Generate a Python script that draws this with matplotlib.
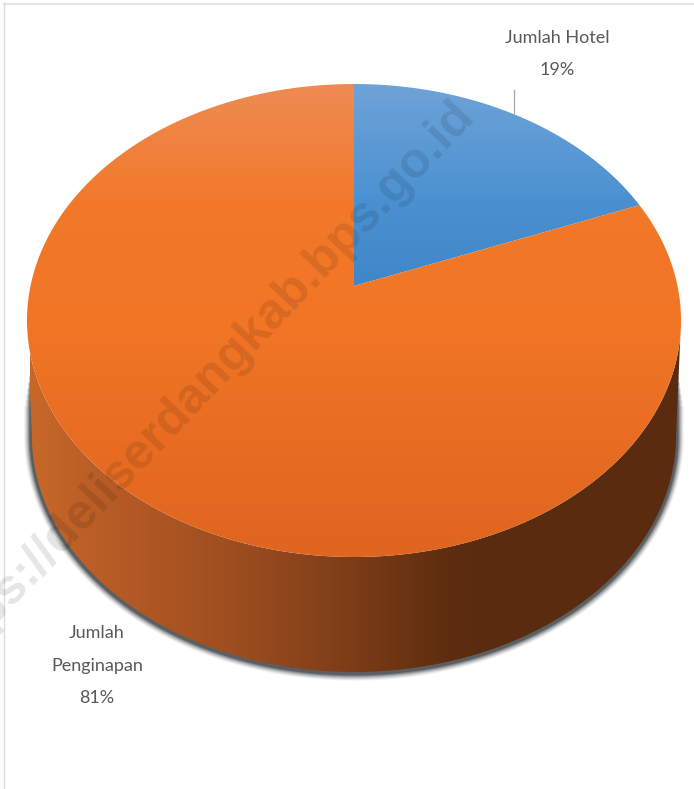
import numpy as np
import matplotlib
matplotlib.use("Agg")
import matplotlib.pyplot as plt
from matplotlib.colors import LinearSegmentedColormap
from matplotlib.patches import Polygon

# data
categories = ["Jumlah Hotel", "Jumlah Penginapan"]
values = [19, 81]
slice_labels = ["Jumlah Hotel\n19%", "Jumlah\nPenginapan\n81%"]
watermark = "https://deliserdangkab.bps.go.id"

# pie geometry in pixels (tilted disc seen in perspective)
CX, APEX_Y, TOP_Y, BOTTOM_Y, HALF_W = 354, 286, 84, 557, 323.5
DEPTH = 115
BASE_SHRINK = 0.985

c = (2 * APEX_Y - TOP_Y - BOTTOM_Y) / (TOP_Y - BOTTOM_Y)
a = TOP_Y * (1 + c) - APEX_Y


def project(theta):
    # theta clockwise from 12 o'clock, radians
    u, v = np.sin(theta), np.cos(theta)
    w = 1 + c * v
    return CX + HALF_W * u / w, (APEX_Y + a * v) / w


def gradient(ax, stops, horizontal, span, clip):
    # stops are (pixel position, colour) along the gradient, span is the other axis
    lo, hi = stops[0][0], stops[-1][0]
    cmap = LinearSegmentedColormap.from_list(
        "g", [((p - lo) / (hi - lo), col) for p, col in stops])
    ramp = np.linspace(0, 1, 512)
    if horizontal:
        img, extent = ramp[None, :], (lo, hi, span[1], span[0])
    else:
        img, extent = ramp[:, None], (span[0], span[1], hi, lo)
    im = ax.imshow(img, cmap=cmap, extent=extent, origin="upper", aspect="auto",
                   zorder=clip.get_zorder(), vmin=0, vmax=1)
    im.set_clip_path(clip)


fig = plt.figure(figsize=(6.94, 7.89), dpi=100)
ax = fig.add_axes([0, 0, 1, 1])

# page frame
ax.plot([4, 694], [3.5, 3.5], color="#e2e2e2", lw=1.2, zorder=1)
ax.plot([4.5, 4.5], [3, 789], color="#dcdcdc", lw=1.0, zorder=1)

# side wall + its soft shadow
widest = np.arccos(-c)
t = np.linspace(widest, 2 * np.pi - widest, 400)
rx, ry = project(t)
bx = CX + (rx - CX) * BASE_SHRINK
by = ry + DEPTH
shadow_lw = [11, 9.5, 8, 6.5, 5, 3.5]
shadow_alpha = [0.07, 0.1, 0.14, 0.2, 0.3, 0.45]
shadow_rise = [30, 36, 42, 48, 54, 60]
for lw, alpha, rise in zip(shadow_lw, shadow_alpha, shadow_rise):
    sx = np.r_[bx[0], bx, bx[-1]]
    sy = np.r_[by[0] - rise, by, by[-1] - rise] + 1
    ax.plot(sx, sy, color="#303438", lw=lw, alpha=alpha, zorder=2, solid_capstyle="butt")

wall = Polygon(np.column_stack([np.r_[rx, bx[::-1]], np.r_[ry, by[::-1]]]),
               closed=True, fc="none", ec="none", zorder=3)
ax.add_patch(wall)
wall_stops = [(30, "#c7682a"), (120, "#b55a25"), (230, "#9e4e20"), (354, "#7b3c17"),
              (450, "#5e2d0f"), (500, "#5a2b0f"), (685, "#5a2b0f")]
gradient(ax, wall_stops, True, (300, 680), wall)

# top face, one slice per value
blue_stops = [(84, "#6ea3d8"), (200, "#4b91d1"), (290, "#3f86c8")]
orange_stops = [(84, "#ee8b53"), (200, "#f2792a"), (330, "#f17525"), (557, "#df6520")]
slice_stops = [blue_stops, orange_stops]

share = np.array(values, dtype=float) / sum(values)
edges = np.r_[0, np.cumsum(share)] * 2 * np.pi
for i, stops in enumerate(slice_stops):
    th = np.linspace(edges[i], edges[i + 1], 600)
    px, py = project(th)
    pts = np.column_stack([np.r_[CX, px], np.r_[APEX_Y, py]])
    top = Polygon(pts, closed=True, fc="none", ec="none", zorder=4 + i * 0.1)
    ax.add_patch(top)
    gradient(ax, stops, False, (20, 690), top)

# leader line + labels
ax.plot([514, 514], [90, 113], color="#a6a6a6", lw=0.9, zorder=3)
font = ["Lato", "Liberation Sans", "DejaVu Sans"]
ax.text(557, 54, slice_labels[0], ha="center", va="center", fontsize=13, color="#595959",
        family=font, linespacing=2.3, zorder=6)
ax.text(97, 665.5, slice_labels[1], ha="center", va="center", fontsize=13, color="#595959",
        family=font, linespacing=2.3, zorder=6)

# watermark, runs off the left edge
ax.text(466, 107, watermark, rotation=46.5, rotation_mode="anchor", ha="right", va="center",
        fontsize=36, fontweight="bold", family=["Liberation Sans", "DejaVu Sans"],
        color="black", alpha=0.1, zorder=7, clip_on=False)

ax.set_xlim(0, 694)
ax.set_ylim(789, 0)
ax.axis("off")

fig.savefig("out.png", dpi=100, facecolor="white")
